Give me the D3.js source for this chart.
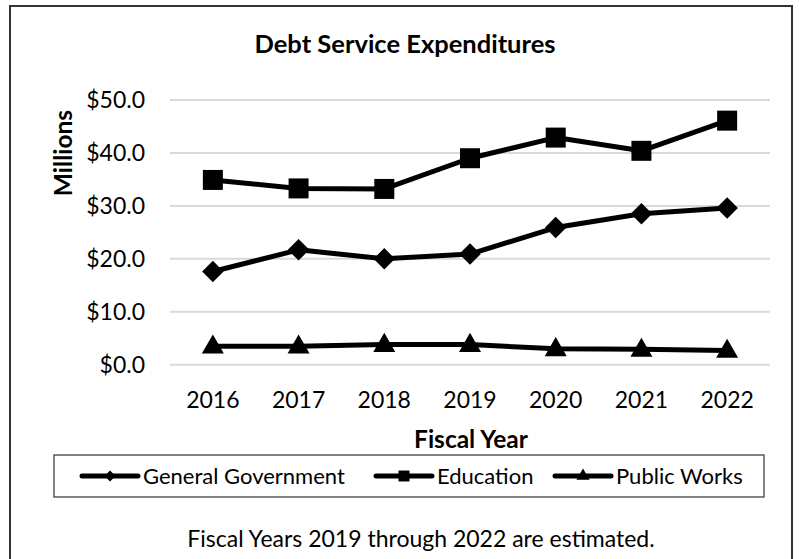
<!DOCTYPE html>
<meta charset="utf-8">
<style>
    body { margin: 0; background: #fff; }
    text { font-family: Lato, "Open Sans", sans-serif; fill: #000; }
    .grid line { stroke: #d9d9d9; stroke-width: 2px; }
    .tick text { font-size: 23px; }
    .series { fill: none; stroke: #000; stroke-width: 5px; stroke-linejoin: round; }
</style>
<svg width="799" height="559"></svg>
<script src="https://d3js.org/d3.v7.min.js"></script>
<script>
    // data
    var years = ["2016", "2017", "2018", "2019", "2020", "2021", "2022"];
    var generalGov = [17.6, 21.7, 20.0, 20.9, 25.9, 28.5, 29.6];
    var education = [34.9, 33.3, 33.2, 39.0, 42.9, 40.4, 46.1];
    var publicWorks = [3.5, 3.5, 3.8, 3.8, 3.0, 2.9, 2.7];
    var yTicks = [0, 10, 20, 30, 40, 50];

    // diamond drawn as a rotated square
    var series = [
        {name: "General Government", values: generalGov, symbol: d3.symbolSquare, rot: 45, size: 230, lsize: 60},
        {name: "Education", values: education, symbol: d3.symbolSquare, rot: 0, size: 400, lsize: 120},
        {name: "Public Works", values: publicWorks, symbol: d3.symbolTriangle, rot: 0, size: 210, lsize: 75}
    ];

    var svg = d3.select("svg");

    // outer frame
    svg.append("rect")
        .attr("x", 10).attr("y", 6)
        .attr("width", 782).attr("height", 560)
        .attr("fill", "none").attr("stroke", "#333").attr("stroke-width", 2);

    var x = d3.scaleBand().domain(years).range([170, 770]);
    var y = d3.scaleLinear().domain([0, 50]).range([364.7, 100]);

    // gridlines
    svg.append("g").attr("class", "grid")
        .selectAll("line").data(yTicks).enter().append("line")
        .attr("x1", 170).attr("x2", 770)
        .attr("y1", function (d) { return y(d); })
        .attr("y2", function (d) { return y(d); });

    // y axis
    var yAxis = svg.append("g")
        .attr("transform", "translate(170,0)")
        .call(d3.axisLeft(y).tickValues(yTicks).tickSize(0).tickPadding(25)
            .tickFormat(function (d) { return "$" + d3.format(".1f")(d); }));
    yAxis.select(".domain").remove();

    // x axis
    var xAxis = svg.append("g")
        .attr("transform", "translate(0,364.7)")
        .call(d3.axisBottom(x).tickSize(0).tickPadding(27));
    xAxis.select(".domain").remove();

    // lines and markers
    var line = d3.line()
        .x(function (d, i) { return x(years[i]) + x.bandwidth() / 2; })
        .y(function (d) { return y(d); });

    series.forEach(function (s) {
        svg.append("path").attr("class", "series").attr("d", line(s.values));
        svg.append("g").selectAll("path")
            .data(s.values).enter().append("path")
            .attr("d", d3.symbol().type(s.symbol).size(s.size))
            .attr("transform", function (d, i) {
                var dy = s.symbol === d3.symbolTriangle ? 1 : 0;
                return "translate(" + (x(years[i]) + x.bandwidth() / 2) + "," + (y(d) + dy) + ") rotate(" + s.rot + ")";
            })
            .attr("fill", "#000");
    });

    // titles
    svg.append("text")
        .attr("x", 405).attr("y", 53)
        .attr("text-anchor", "middle")
        .style("font-size", "25.5px").style("font-weight", "bold")
        .text("Debt Service Expenditures");

    svg.append("text")
        .attr("transform", "translate(71.5,153) rotate(-90)")
        .attr("text-anchor", "middle")
        .style("font-size", "24.5px").style("font-weight", "bold")
        .text("Millions");

    svg.append("text")
        .attr("x", 471).attr("y", 448)
        .attr("text-anchor", "middle")
        .style("font-size", "24.5px").style("font-weight", "bold")
        .text("Fiscal Year");

    // legend
    svg.append("rect")
        .attr("x", 54).attr("y", 455)
        .attr("width", 710).attr("height", 42)
        .attr("fill", "#fff").attr("stroke", "#333").attr("stroke-width", 1.2);

    var legendX = [82, 376, 555];
    series.forEach(function (s, i) {
        var g = svg.append("g").attr("transform", "translate(" + legendX[i] + ",476)");
        g.append("line").attr("x1", 0).attr("x2", 56)
            .attr("stroke", "#000").attr("stroke-width", 5).attr("stroke-linecap", "round");
        g.append("path")
            .attr("d", d3.symbol().type(s.symbol).size(s.lsize))
            .attr("transform", "translate(28,0) rotate(" + s.rot + ")")
            .attr("fill", "#000");
        g.append("text")
            .attr("x", 61).attr("y", 7.5)
            .style("font-size", "22px")
            .text(s.name);
    });

    // footnote
    svg.append("text")
        .attr("x", 421).attr("y", 547)
        .attr("text-anchor", "middle")
        .style("font-size", "23px")
        .text("Fiscal Years 2019 through 2022 are estimated.");
</script>
